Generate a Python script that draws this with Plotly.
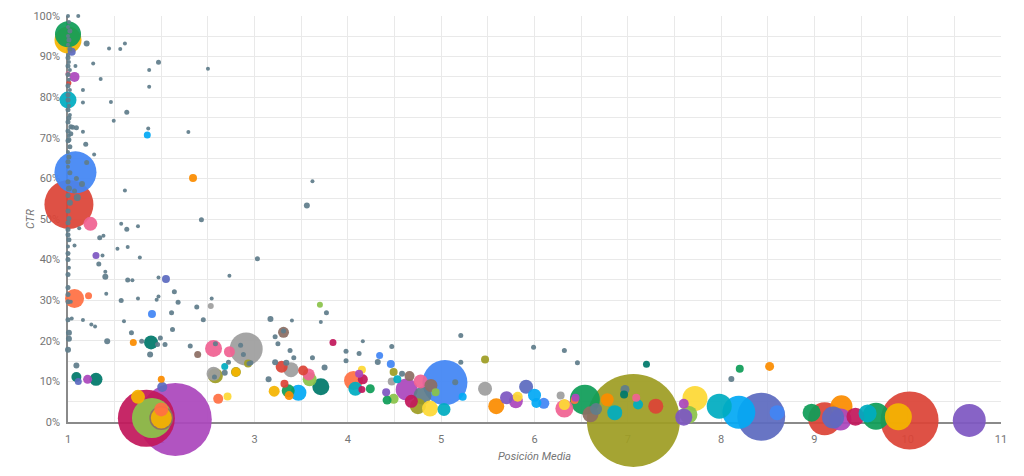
import numpy as np
import plotly.graph_objects as go

# ---- Data: coloured bubbles (queries) ----
posicion = [1.0, 1.0, 1.04, 1.0, 1.07, 1.01, 1.0, 1.85, 2.34, 1.08, 1.01, 1.24, 1.30, 2.05,
            1.07, 1.22, 1.90, 1.70, 1.89, 1.09, 1.11, 1.21, 1.30, 1.75, 1.84, 2.15, 1.90, 2.0,
            2.0, 2.0, 2.01, 2.0, 2.56, 2.73, 2.91, 2.39, 2.58, 2.56, 2.68, 2.80, 2.93, 2.61,
            2.71, 2.53, 3.70, 3.31, 3.84, 4.34, 4.46, 3.29, 3.39, 3.52, 3.58, 3.59, 3.71, 3.32,
            3.36, 3.21, 3.37, 3.47, 4.06, 4.15, 4.12, 4.16, 4.15, 4.08, 4.24, 4.41, 4.42, 4.49,
            4.49, 4.47, 4.53, 4.66, 4.78, 4.63, 4.89, 4.80, 4.68, 4.75, 4.88, 4.94, 5.03, 5.04,
            5.23, 5.47, 5.47, 5.59, 5.70, 5.80, 5.82, 5.91, 6.00, 6.02, 6.10, 6.28, 6.32, 6.32,
            6.43, 6.44, 6.54, 6.60, 6.66, 6.78, 6.86, 7.06, 6.97, 6.96, 7.09, 7.11, 7.30, 7.20,
            7.60, 7.60, 7.65, 7.72, 7.98, 8.20, 8.52, 8.19, 8.43, 8.60, 8.97, 9.11, 9.29, 9.28,
            9.20, 9.44, 9.57, 9.66, 10.02, 9.90, 10.66, 2.80]
ctr = [94.1, 95.5, 91.2, 85.8, 85.0, 83.5, 79.3, 70.7, 60.1, 61.5, 53.6, 48.8, 41.0, 35.2,
       30.4, 31.1, 26.6, 19.6, 19.6, 11.1, 10.0, 10.5, 10.5, 6.2, 0.9, 0.6, 1.0, 1.0,
       1.0, 3.1, 8.6, 10.5, 18.1, 17.3, 18.0, 16.6, 11.4, 11.9, 13.7, 12.3, 14.4, 5.7,
       6.3, 28.6, 28.9, 22.1, 19.6, 16.4, 14.3, 13.6, 12.9, 12.7, 11.7, 10.5, 8.7, 9.4,
       7.7, 7.6, 6.5, 7.2, 10.2, 12.9, 11.9, 10.5, 8.0, 8.2, 8.2, 7.3, 5.4, 5.7,
       12.3, 10.0, 10.5, 11.3, 10.0, 8.0, 9.0, 6.5, 5.1, 3.9, 3.3, 7.3, 3.1, 9.7,
       6.2, 15.4, 8.2, 3.9, 6.0, 5.1, 6.2, 8.7, 6.6, 4.7, 4.6, 6.5, 3.3, 4.3,
       5.4, 6.0, 5.5, 1.9, 3.2, 5.5, 2.3, 0.4, 8.0, 6.8, 6.0, 4.3, 3.9, 14.2,
       1.2, 4.5, 1.8, 5.8, 3.9, 13.1, 13.7, 2.4, 1.3, 2.3, 2.3, 0.8, 3.9, 0.6,
       1.1, 1.3, 2.1, 1.4, 0.4, 1.3, 0.4, 12.3]
impresiones = [7290, 6760, 640, 250, 1000, 250, 2890, 490, 640, 17640, 24010, 1960, 490, 640,
               3610, 490, 640, 490, 1960, 1000, 490, 810, 1690, 1960, 32490, 53290, 16000, 5760,
               4410, 1960, 1000, 490, 2890, 1210, 10890, 490, 2250, 1960, 490, 810, 640, 1000,
               640, 360, 360, 1210, 490, 490, 640, 1440, 2250, 1000, 1440, 1960, 2890, 640,
               1690, 1210, 810, 2560, 3610, 640, 640, 1000, 490, 1960, 810, 640, 810, 1000,
               640, 640, 640, 1000, 1960, 4840, 1690, 3240, 1690, 2560, 2560, 640, 1690, 20250,
               640, 640, 1960, 2560, 1690, 1960, 1000, 1960, 1690, 1000, 1210, 640, 3240, 1210,
               640, 640, 9000, 2560, 1440, 1690, 2250, 86490, 810, 640, 640, 1000, 2250, 490,
               2890, 1000, 3240, 6250, 6250, 640, 810, 10890, 23040, 2250, 3240, 10890, 4840, 4840,
               4840, 3240, 3240, 7290, 33640, 7290, 10890, 1000]
grupo = ["Y", "G", "I", "PK", "P", "R", "C", "LB", "OR", "B", "R", "PK", "DP", "I",
         "DO", "DO", "B", "OR", "T", "T", "I", "P", "T", "Y", "CR", "P", "LG", "BR",
         "Y", "DO", "I", "OR", "PK", "PK", "GR", "BR", "O", "GR", "C", "Y", "O", "DO",
         "YL", "GR", "LG", "BR", "CR", "B", "B", "R", "GR", "R", "PK", "LG", "T", "R",
         "G", "Y", "OR", "LB", "DO", "YL", "P", "CR", "CR", "C", "G", "DP", "G", "LG",
         "O", "GR", "C", "BR", "PK", "P", "BR", "BG", "CR", "O", "YL", "LG", "C", "B",
         "LB", "O", "GR", "OR", "DP", "P", "YL", "I", "LB", "LB", "B", "GR", "PK", "YL",
         "DO", "P", "G", "BR", "BG", "OR", "C", "O", "BG", "T", "PK", "C", "R", "T",
         "DP", "P", "LG", "YL", "C", "G", "OR", "LB", "I", "B", "G", "R", "OR", "P",
         "I", "CR", "C", "G", "R", "Y", "DP", "O"]

# ---- Data: remaining queries (blue-grey dots) ----
otras_posicion = [1.0, 1.01, 1.0, 1.02, 1.0, 1.01, 1.0, 1.02, 1.0, 1.0, 1.01, 1.0, 1.02, 1.0,
                  1.01, 1.0, 1.02, 1.0, 1.0, 1.01, 1.0, 1.02, 1.01, 1.0, 1.03, 1.0, 1.01, 1.0,
                  1.02, 1.0, 1.01, 1.0, 1.0, 1.02, 1.0, 1.01, 1.0, 1.02, 1.0, 1.01, 1.0, 1.0,
                  1.0, 1.01, 1.0, 1.0, 1.0, 1.01, 1.0, 1.0, 1.0, 1.0, 1.0, 1.01, 1.0,
                  1.11, 1.20, 1.44, 1.56, 1.61, 1.27, 1.08, 1.87, 1.97, 2.50, 1.35, 1.87, 1.16, 1.16,
                  1.46, 1.63, 1.49, 1.16, 1.86, 2.29, 1.05, 1.09, 1.03, 1.01, 1.19, 1.28, 1.61, 2.43,
                  1.57, 1.63, 1.75, 1.53, 1.64, 1.77, 3.03, 1.64, 1.69, 1.97, 2.73, 2.14, 1.57, 1.75,
                  1.95, 1.97, 2.18, 2.54, 3.62, 3.56, 1.20, 1.09, 1.15, 1.07, 1.10, 1.12, 1.34, 1.38,
                  1.07, 1.37, 1.33, 1.40, 1.40, 1.41, 1.03, 1.04, 1.16, 1.25, 1.29, 1.60, 1.68, 1.79,
                  1.88, 1.01, 1.42, 1.09, 2.11, 2.38, 2.45, 2.12, 1.96, 2.04, 1.99, 2.31, 2.58, 2.85,
                  2.88, 2.94, 2.72, 2.68, 2.57, 3.17, 3.40, 3.31, 3.22, 3.25, 3.77, 3.71, 3.38, 3.42,
                  3.62, 3.98, 4.12, 4.16, 3.98, 4.47, 4.32, 3.22, 3.34, 3.75, 3.15, 4.58, 5.15, 5.21,
                  5.21, 5.99, 6.32, 6.46, 8.11, 2.96]
otras_ctr = [100.0, 98.5, 97.3, 96.3, 95.1, 94.1, 92.9, 91.9, 90.4, 89.7, 88.7, 87.7, 86.7, 85.6,
             84.3, 82.8, 81.8, 80.6, 79.3, 77.9, 76.9, 75.6, 74.9, 73.9, 72.7, 71.7, 70.5, 69.3,
             67.8, 66.5, 65.3, 64.1, 62.9, 61.4, 59.2, 57.5, 55.8, 54.0, 52.0, 50.1, 49.1, 47.4,
             46.1, 44.9, 43.2, 41.5, 40.0, 38.0, 36.3, 33.1, 31.4, 29.6, 25.2, 22.0, 17.8,
             100.0, 93.2, 92.0, 91.9, 93.2, 88.3, 87.7, 86.7, 88.6, 87.0, 84.5, 82.6, 81.8, 78.7,
             78.8, 76.3, 74.2, 71.5, 72.3, 71.4, 72.6, 72.5, 71.0, 69.5, 68.4, 65.9, 57.0, 49.8,
             48.8, 47.5, 48.2, 42.7, 43.1, 40.5, 40.2, 35.0, 34.9, 35.6, 36.0, 32.1, 29.9, 30.4,
             30.1, 30.9, 29.5, 30.4, 59.3, 53.3, 63.9, 60.0, 58.6, 56.9, 55.3, 47.7, 45.4, 45.9,
             43.5, 41.0, 38.9, 37.0, 35.8, 31.6, 29.6, 25.5, 25.1, 24.0, 23.5, 24.8, 22.0, 19.9,
             16.6, 20.5, 19.9, 13.9, 26.9, 28.3, 25.2, 22.8, 19.1, 19.1, 20.7, 18.7, 19.3, 18.9,
             16.6, 14.4, 14.7, 12.1, 11.1, 25.4, 25.0, 22.4, 21.0, 19.3, 26.9, 24.6, 17.6, 15.8,
             15.8, 17.4, 16.9, 19.9, 15.1, 18.6, 14.8, 14.7, 14.6, 13.4, 10.5, 11.9, 9.8, 21.3,
             14.7, 18.4, 17.6, 14.6, 10.6, 14.6]
otras_impresiones = [160, 160, 160, 250, 160, 250, 160, 250, 160, 250, 160, 250, 160, 250,
                     160, 250, 160, 250, 250, 160, 250, 160, 250, 250, 250, 250, 160, 250,
                     250, 160, 250, 250, 160, 250, 250, 360, 250, 360, 250, 250, 250, 250,
                     250, 250, 160, 250, 250, 160, 250, 250, 250, 250, 250, 360, 360,
                     160, 360, 160, 160, 160, 160, 160, 160, 250, 160, 160, 160, 160, 160,
                     160, 250, 160, 160, 160, 160, 250, 250, 250, 250, 250, 160, 160, 250,
                     160, 250, 160, 160, 160, 160, 250, 250, 160, 160, 160, 250, 250, 160,
                     160, 160, 250, 160, 160, 360, 250, 250, 360, 250, 490, 160, 250, 160,
                     160, 160, 250, 160, 360, 160, 160, 160, 160, 160, 160, 160, 250, 250,
                     360, 360, 360, 360, 250, 250, 250, 250, 250, 250, 250, 250, 250, 250,
                     250, 250, 250, 360, 250, 360, 160, 250, 250, 250, 250, 160, 250, 250,
                     250, 250, 250, 160, 250, 250, 360, 360, 360, 360, 360, 360, 360, 250,
                     250, 250, 250, 250, 360, 250]

paleta = {
    "B": "#4285F4", "R": "#DB4437", "Y": "#F4B400", "G": "#0F9D58", "P": "#AB47BC",
    "C": "#00ACC1", "DO": "#FF7043", "O": "#9E9D24", "I": "#5C6BC0", "PK": "#F06292",
    "T": "#00796B", "CR": "#C2185B", "DP": "#7E57C2", "LB": "#03A9F4", "LG": "#8BC34A",
    "YL": "#FDD835", "OR": "#FB8C00", "BR": "#8D6E63", "GR": "#9E9E9E", "BG": "#607D8B",
}

# combine and draw larger bubbles first so small ones stay visible
xs = np.array(posicion + otras_posicion, dtype=float)
ys = np.array(ctr + otras_ctr, dtype=float)
ss = np.array(impresiones + otras_impresiones, dtype=float)
cs = np.array([paleta[g] for g in grupo] + [paleta["BG"]] * len(otras_posicion))
orden = np.argsort(-ss, kind="stable")

fig = go.Figure(go.Scatter(
    x=xs[orden], y=ys[orden], mode="markers", cliponaxis=False,
    marker=dict(size=ss[orden], sizemode="area", sizeref=20, color=cs[orden],
                opacity=0.93, line=dict(width=0)),
    hoverinfo="skip", showlegend=False,
))

grid = "#e9e9e9"
# the page body has an 8px default margin, so the figure is sized to compensate
plot_w = 1016 - 60 - 23
fig.update_layout(
    width=1016, height=468,
    margin=dict(l=60, r=23, t=8, b=54),
    paper_bgcolor="white", plot_bgcolor="white",
    font=dict(family="Roboto, sans-serif", size=11, color="#757575"),
    xaxis=dict(
        range=[1, 11], tick0=1, dtick=1, showgrid=True, gridcolor=grid, gridwidth=1,
        minor=dict(dtick=0.5, showgrid=True, gridcolor=grid, gridwidth=1),
        zeroline=False, showline=True, linecolor="#8a8a8a", linewidth=1.5,
        ticks="", ticklabelstandoff=6, layer="below traces", automargin=False,
        title=dict(text="Posición Media", standoff=7,
                   font=dict(size=11, style="italic", color="#757575")),
    ),
    yaxis=dict(
        range=[0, 100], tick0=0, dtick=10, ticksuffix="%", showgrid=True, gridcolor=grid,
        gridwidth=1, minor=dict(dtick=5, showgrid=True, gridcolor=grid, gridwidth=1),
        zeroline=False, showline=True, linecolor="#8a8a8a", linewidth=1.5,
        ticks="", ticklabelstandoff=4, layer="below traces", automargin=False,
    ),
    annotations=[dict(
        text="CTR", textangle=-90, showarrow=False,
        xref="paper", yref="paper", x=-38 / plot_w, y=0.5,
        xanchor="center", yanchor="middle",
        font=dict(size=11, style="italic", color="#757575"),
    )],
)

fig.write_html("out.html")
